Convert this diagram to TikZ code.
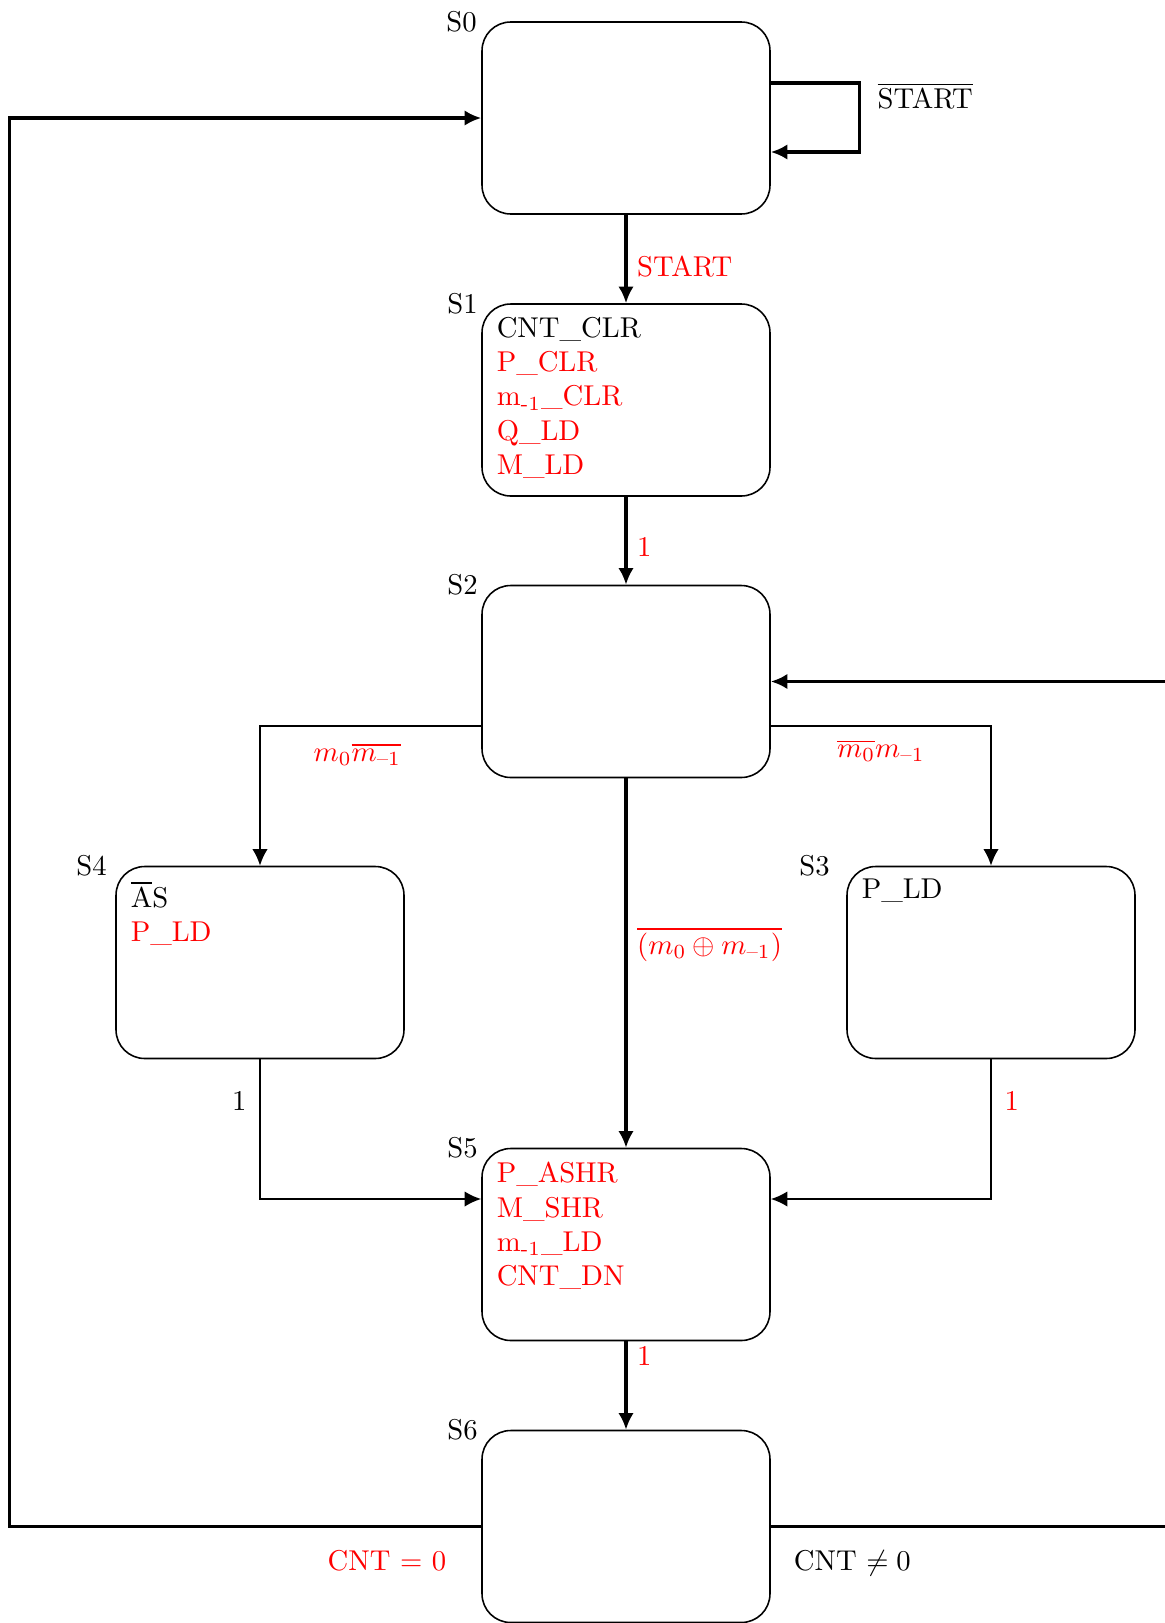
\documentclass[tikz,border=0pt]{standalone}
\usepackage{amsmath}
\usetikzlibrary{arrows.meta,calc}
\newcommand{\mone}{\text{--}1}
\begin{document}
\begin{tikzpicture}[x=0.349pt,y=-0.349pt,
  state/.style={draw, line width=0.55pt, rounded corners=10pt,
    minimum width=100.5pt, minimum height=67pt, inner sep=0pt},
  acts/.style={anchor=north west, align=left, inner sep=0pt, text=red},
  sname/.style={anchor=east, inner sep=0pt},
  conn/.style={line width=1.15pt, -{Latex[length=5.8pt,width=5.4pt]}},
  branch/.style={conn, line width=0.75pt}]
\useasboundingbox (0,0) rectangle (1165,1623);

% states
\node[state] (S0) at (626,118) {};
\node[state] (S1) at (626,400) {};
\node[state] (S2) at (626,681.5) {};
\node[state] (S3) at (991,962.5) {};
\node[state] (S4) at (260,962.5) {};
\node[state] (S5) at (626,1244.5) {};
\node[state] (S6) at (626,1526.5) {};

% state names
\node[sname] (n0) at ($(S0.north west)+(-4,0)$) {S0};
\node[sname] (n1) at ($(S1.north west)+(-3,0)$) {S1};
\node[sname] (n2) at ($(S2.north west)+(-3,0)$) {S2};
\node[sname] (n3) at ($(S3.north west)+(-16,0)$) {S3};
\node[sname] (n4) at ($(S4.north west)+(-8,0)$) {S4};
\node[sname] (n5) at ($(S5.north west)+(-3,0)$) {S5};
\node[sname] (n6) at ($(S6.north west)+(-3,0)$) {S6};

% outputs of each state
\node[acts] (a1) at ($(S1.north west)+(15,13)$)
  {\textcolor{black}{CNT\_CLR}\\P\_CLR\\m\textsubscript{-1}\_CLR\\Q\_LD\\M\_LD};
\node[acts, text=black] (a3) at ($(S3.north west)+(15,13)$) {P\_LD};
\node[acts] (a4) at ($(S4.north west)+(15,15)$)
  {\textcolor{black}{$\overline{\mbox{A}}$S}\\P\_LD};
\node[acts] (a5) at ($(S5.north west)+(15,14)$)
  {P\_ASHR\\M\_SHR\\m\textsubscript{-1}\_LD\\CNT\_DN};

% main column
\draw[conn] (S0.south) -- node[right, text=red, pos=.58] {START} (S1.north);
\draw[conn] (S1.south) -- node[right, text=red, pos=.57] {1} (S2.north);
\draw[conn] (S2.south) -- node[right, text=red, pos=.45]
  {$\overline{(m_0\oplus m_{\mone})}$} (S5.north);
\draw[conn] (S5.south) -- node[right, text=red, pos=.17] {1} (S6.north);

% wait in S0
\draw[conn] ($(S0.east)+(0,-35)$) -- ++(89,0) |- ($(S0.east)+(0,34)$);
\node[anchor=west, inner sep=0pt] (nst) at (877,96) {$\overline{\mbox{START}}$};

% branches out of S2
\draw[branch] ($(S2.west)+(0,44.5)$) -| node[below=2.3pt, text=red, pos=.28]
  {$m_0\overline{m_{\mone}}$} (S4.north);
\draw[branch] ($(S2.east)+(0,44.5)$) -| node[below=1pt, text=red, pos=.25]
  {$\overline{m_0}m_{\mone}$} (S3.north);

% back into S5
\draw[branch] (S4.south) |- node[left=1pt, pos=.15] {1} ($(S5.west)+(0,-45.5)$);
\draw[branch] (S3.south) |- node[right=1pt, text=red, pos=.15] {1} ($(S5.east)+(0,-45.5)$);

% loops from S6
\coordinate (lx) at (9.5,0);
\coordinate (rx) at (1200,0);
\draw[conn] (S6.west) -- node[below=4.5pt, text=red, pos=.2] {CNT = 0} (S6.west -| lx)
  -- (S0.west -| lx) -- (S0.west);
\draw[conn] (S6.east) -- node[below=4.5pt, pos=.19] {CNT $\neq 0$} (S6.east -| rx)
  -- (S2.east -| rx) -- (S2.east);
\end{tikzpicture}
\end{document}
